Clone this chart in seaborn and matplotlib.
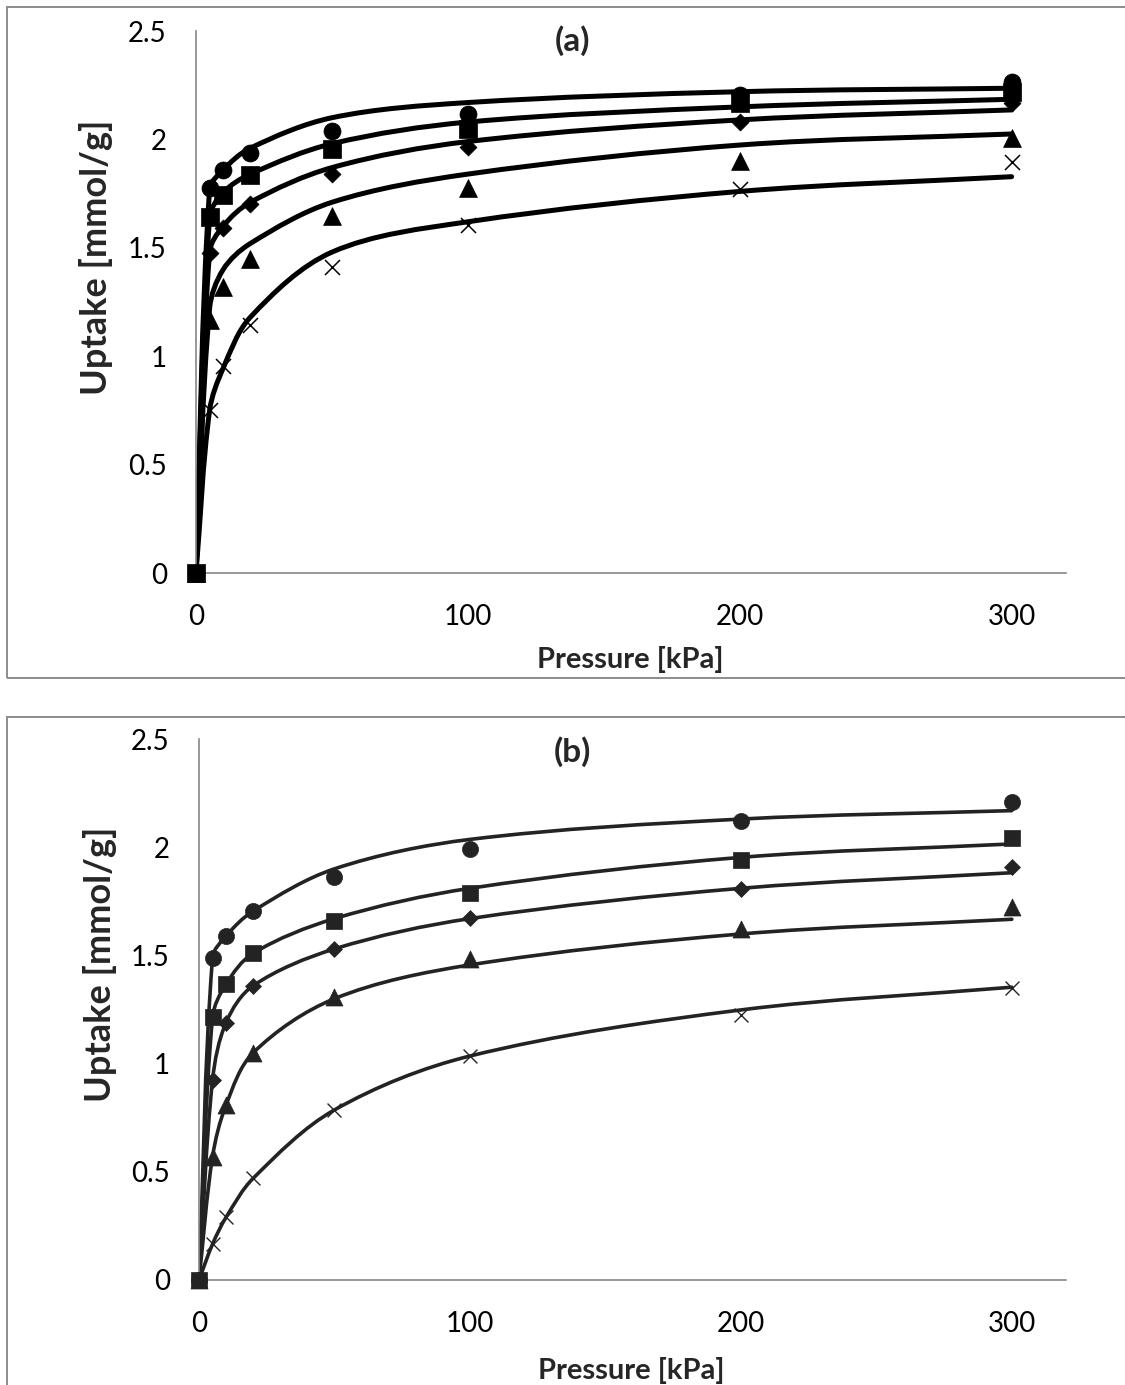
import numpy as np
import pandas as pd
import matplotlib
matplotlib.use("Agg")
import matplotlib.pyplot as plt
import seaborn as sns
from matplotlib.path import Path
from matplotlib.patches import PathPatch, Rectangle
from matplotlib.ticker import FixedLocator, MultipleLocator

# ---------------- data ----------------
pressure = [0, 5, 10, 20, 50, 100, 200, 300]          # kPa
series_names = ["S1", "S2", "S3", "S4", "S5"]
series_markers = ["o", "s", "D", "^", "x"]

# panel (a): measured uptake (mmol/g)
a_s1 = [0, 1.774, 1.86, 1.936, 2.04, 2.117, 2.205, 2.266]
a_s2 = [0, 1.643, 1.744, 1.836, 1.954, 2.05, 2.167, 2.22]
a_s3 = [0, 1.477, 1.59, 1.70, 1.839, 1.966, 2.08, 2.167]
a_s4 = [0, 1.167, 1.32, 1.45, 1.647, 1.775, 1.90, 2.005]
a_s5 = [0, 0.752, 0.955, 1.144, 1.413, 1.605, 1.77, 1.897]
# panel (a): isotherm model values
a_fit1 = [0, 1.77, 1.86, 1.96, 2.10, 2.17, 2.22, 2.236]
a_fit2 = [0, 1.64, 1.755, 1.84, 1.98, 2.08, 2.15, 2.185]
a_fit3 = [0, 1.48, 1.60, 1.71, 1.87, 1.99, 2.09, 2.136]
a_fit4 = [0, 1.22, 1.40, 1.52, 1.71, 1.84, 1.974, 2.025]
a_fit5 = [0, 0.75, 0.945, 1.18, 1.48, 1.62, 1.76, 1.828]

# panel (b): measured uptake (mmol/g)
b_s1 = [0, 1.486, 1.59, 1.705, 1.861, 1.990, 2.123, 2.207]
b_s2 = [0, 1.214, 1.368, 1.510, 1.660, 1.790, 1.941, 2.041]
b_s3 = [0, 0.924, 1.189, 1.36, 1.528, 1.671, 1.807, 1.910]
b_s4 = [0, 0.57, 0.809, 1.048, 1.309, 1.482, 1.62, 1.725]
b_s5 = [0, 0.166, 0.29, 0.47, 0.786, 1.035, 1.225, 1.348]
# panel (b): isotherm model values
b_fit1 = [0, 1.49, 1.59, 1.705, 1.90, 2.036, 2.13, 2.169]
b_fit2 = [0, 1.214, 1.368, 1.51, 1.67, 1.81, 1.953, 2.015]
b_fit3 = [0, 0.924, 1.19, 1.36, 1.53, 1.67, 1.81, 1.882]
b_fit4 = [0, 0.57, 0.809, 1.05, 1.30, 1.456, 1.599, 1.667]
b_fit5 = [0, 0.166, 0.29, 0.47, 0.786, 1.035, 1.248, 1.353]

x_ticks = [0, 100, 200, 300]
x_ticklabels = ["0", "100", "200", "300"]
y_ticks = [0, 0.5, 1, 1.5, 2, 2.5]
y_ticklabels = ["0", "0.5", "1", "1.5", "2", "2.5"]


def long_form(values):
    rows = []
    for name, vals in zip(series_names, values):
        for p, v in zip(pressure, vals):
            rows.append({"Pressure": p, "Uptake": v, "Sample": name})
    return pd.DataFrame(rows)


meas_a = long_form([a_s1, a_s2, a_s3, a_s4, a_s5])
fit_a = long_form([a_fit1, a_fit2, a_fit3, a_fit4, a_fit5])
meas_b = long_form([b_s1, b_s2, b_s3, b_s4, b_s5])
fit_b = long_form([b_fit1, b_fit2, b_fit3, b_fit4, b_fit5])

# ---------------- style ----------------
sns.set_style("white")
plt.rcParams["font.family"] = ["Lato", "DejaVu Sans"]
AXIS_GREY = "#868686"

W, H = 1125, 1385
fig = plt.figure(figsize=(W / 100, H / 100), dpi=100)


def px_axes(left, right, top, bottom):
    return fig.add_axes([left / W, 1 - bottom / H, (right - left) / W, (bottom - top) / H])


def smooth_path(ax, xs, ys, tension=1 / 3):
    """Smoothed polyline through the given points (spreadsheet style Bezier)."""
    pts = ax.transData.transform(np.column_stack([xs, ys]))
    n = len(pts)
    verts = [pts[0]]
    codes = [Path.MOVETO]
    for i in range(n - 1):
        p0 = pts[i - 1] if i > 0 else pts[i]
        p1, p2 = pts[i], pts[i + 1]
        p3 = pts[i + 2] if i + 2 < n else pts[i + 1]
        d01 = np.hypot(*(p1 - p0))
        d12 = np.hypot(*(p2 - p1))
        d23 = np.hypot(*(p3 - p2))
        f1 = d12 / (d01 + d12) if d01 + d12 > 0 else 0
        f2 = d12 / (d12 + d23) if d12 + d23 > 0 else 0
        c1 = p1 + (p2 - p0) * tension * f1
        c2 = p2 - (p3 - p1) * tension * f2
        verts += [c1, c2, p2]
        codes += [Path.CURVE4] * 3
    verts = ax.transData.inverted().transform(np.array(verts))
    return Path(verts, codes)


def draw_panel(ax, meas, fit, tag, color, line_w, sizes, cross_lw, tag_xy, xlab_y):
    ax.set_xlim(0, 320)
    ax.set_ylim(0, 2.5)
    fig.canvas.draw()
    for name in series_names:
        f = fit[fit["Sample"] == name]
        path = smooth_path(ax, f["Pressure"].to_numpy(), f["Uptake"].to_numpy())
        ax.add_patch(PathPatch(path, facecolor="none", edgecolor=color, lw=line_w,
                               capstyle="round", joinstyle="round", zorder=2))
    for name, mk, s in zip(series_names, series_markers, sizes):
        d = meas[meas["Sample"] == name]
        if mk == "x":
            sns.scatterplot(data=d, x="Pressure", y="Uptake", marker=mk, s=s,
                            color=color, linewidth=cross_lw, ax=ax, zorder=3,
                            legend=False, clip_on=False)
        else:
            sns.scatterplot(data=d, x="Pressure", y="Uptake", marker=mk, s=s,
                            color=color, edgecolor=color, linewidth=0.5, ax=ax,
                            zorder=4, legend=False, clip_on=False)

    for side in ("top", "right"):
        ax.spines[side].set_visible(False)
    for side in ("left", "bottom"):
        ax.spines[side].set_color(AXIS_GREY)
        ax.spines[side].set_linewidth(1.2)
    ax.xaxis.set_major_locator(FixedLocator(x_ticks))
    ax.set_xticklabels(x_ticklabels)
    ax.xaxis.set_minor_locator(MultipleLocator(50))
    ax.yaxis.set_major_locator(FixedLocator(y_ticks))
    ax.set_yticklabels(y_ticklabels)
    ax.tick_params(axis="y", which="major", direction="out", length=6, width=1.1,
                   color=AXIS_GREY, labelsize=20, pad=15, labelcolor="black")
    ax.tick_params(axis="x", which="both", direction="out", length=4, width=1.1,
                   color=AXIS_GREY, labelsize=20, pad=18, labelcolor="black")
    ax.set_xlabel("Pressure [kPa]", fontsize=21, fontweight="bold")
    ax.set_ylabel("Uptake [mmol/g]", fontsize=26, fontweight="bold")
    ax.xaxis.set_label_coords(0.499, xlab_y)
    ax.yaxis.set_label_coords(-0.095, 0.583)
    ax.text(tag_xy[0], tag_xy[1], tag, transform=ax.transAxes, ha="center",
            va="center", fontsize=24, fontweight="bold")
    ax.set_facecolor("none")


# panel frames
fig.patches.append(Rectangle((7 / W, 1 - 678 / H), 1.1, (678 - 7) / H,
                             transform=fig.transFigure, fill=False,
                             edgecolor="#8c8c8c", lw=1.4, zorder=0))
fig.patches.append(Rectangle((7 / W, -0.1), 1.1, 0.1 + (H - 717) / H,
                             transform=fig.transFigure, fill=False,
                             edgecolor="#8c8c8c", lw=1.4, zorder=0))

ax_a = px_axes(196, 1066, 31, 573)
draw_panel(ax_a, meas_a, fit_a, "(a)", "black", 3.6,
           [150, 150, 75, 165, 117], 1.1, (0.433, 0.983), -0.134)

ax_b = px_axes(199, 1066, 739, 1280)
draw_panel(ax_b, meas_b, fit_b, "(b)", "#232323", 2.6,
           [135, 140, 66, 150, 100], 1.0, (0.431, 0.976), -0.142)

fig.savefig("out.png", dpi=100, facecolor="white")
